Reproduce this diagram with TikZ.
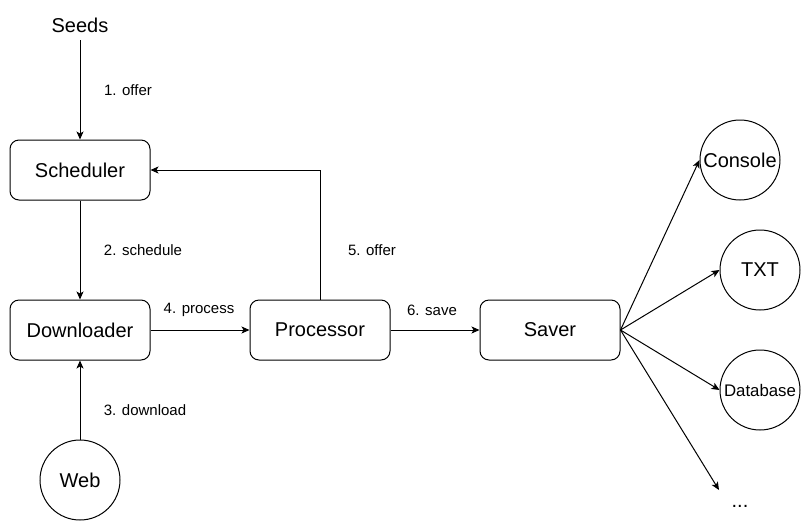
\documentclass[tikz,border=0pt]{standalone}
\usepackage{fontspec}
\setmainfont{Liberation Sans}
\usetikzlibrary{arrows.meta}
\begin{document}
\begin{tikzpicture}[x=1pt,y=-1pt,
  box/.style={draw,rounded corners=9pt,minimum width=140pt,minimum height=60pt,inner sep=0pt,font=\fontsize{20}{24}\selectfont},
  circ/.style={draw,circle,minimum size=80pt,inner sep=0pt,font=\fontsize{20}{24}\selectfont},
  lbl/.style={font=\fontsize{15}{18}\selectfont,inner sep=0pt},
  big/.style={font=\fontsize{20}{24}\selectfont,inner sep=0pt},
  arr/.style={draw,line width=1pt,-{Stealth[length=8pt,width=7pt,inset=2pt]}},
  every node/.append style={line width=1pt}]
\useasboundingbox (0,0) rectangle (811,531);
\node[big] (seeds) at (80,25) {Seeds};
\coordinate (seedsb) at (80,40);
\node[box] (sched) at (80,170) {Scheduler};
\node[box] (down) at (80,330) {Downloader};
\node[box] (proc) at (320,330) {Processor};
\node[box] (saver) at (550,330) {Saver};
\node[circ] (web) at (80,480) {Web};
\node[circ] (console) at (740,160) {Console};
\node[circ] (txt) at (760,270) {TXT};
\node[circ,font=\fontsize{16.8}{20}\selectfont] (db) at (760,390) {Database};
\node[big] (more) at (740,506) {...};
\coordinate (moretip) at (719,490);

\node[lbl] (l1) at (128,90) {1. offer};
\node[lbl] (l2) at (143,250) {2. schedule};
\node[lbl] (l3) at (145,410) {3. download};
\node[lbl] (l4) at (199,310) {4. process};
\node[lbl] (l5) at (372,250) {5. offer};
\node[lbl] (l6) at (432,310) {6. save};

\path[arr] (seedsb) -- (sched.north);
\path[arr] (sched.south) -- (down.north);
\path[arr] (web.north) -- (down.south);
\path[arr] (down.east) -- (proc.west);
\path[arr] (proc.north) |- (sched.east);
\path[arr] (proc.east) -- (saver.west);
\path[arr] (saver.east) -- (console.west);
\path[arr] (saver.east) -- (txt.west);
\path[arr] (saver.east) -- (db.west);
\path[arr] (saver.east) -- (moretip);
\end{tikzpicture}
\end{document}
